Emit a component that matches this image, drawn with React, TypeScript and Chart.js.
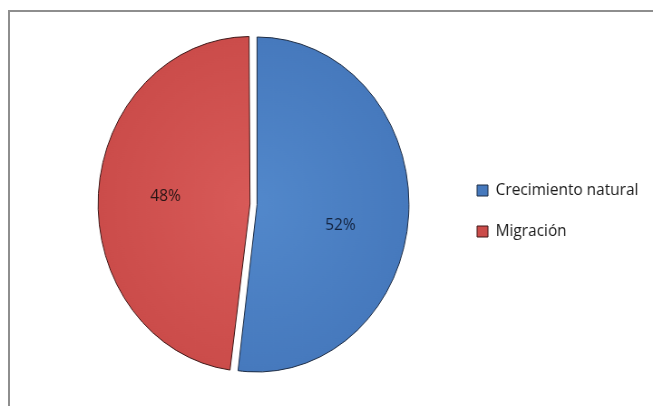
import { useEffect, useRef } from 'react';
import { Chart, registerables } from 'chart.js';

Chart.register(...registerables);

// ---- data ----
const categories = ['Crecimiento natural', 'Migración'];
const values = [52, 48];
const percentLabels = ['52%', '48%'];

// ---- styling ----
const explode = [0, 31];
const fillInner = ['#5288cb', '#d85a58'];
const fillOuter = ['#4679bd', '#cb4c4a'];
const borderColors = ['#1d2c44', '#3e1717'];
const labelColors = ['#13233f', '#2a1515'];
const labelNudge = [[0, 15], [-5, -2]];

const W_CANVAS = 720;
const W_DISPLAY = 653;
const H = 406;
const FONT_FAMILY = "'Open Sans', sans-serif";
const LEGEND_SIZE = 17;
const LEGEND_PAD = 24;
const BOX_W = 12;
const BOX_H = 11;

export default function App() {
  const ref = useRef<HTMLCanvasElement>(null);

  useEffect(() => {
    const canvas = ref.current!;
    const meas = document.createElement('canvas').getContext('2d')!;
    meas.font = `${LEGEND_SIZE}px ${FONT_FAMILY}`;
    const textW = Math.max(...categories.map((c) => meas.measureText(c).width));
    const legendWidth = LEGEND_PAD + BOX_W + LEGEND_SIZE / 2 + textW + 10;
    const legendLeft = 502;
    const padRight = Math.max(0, W_CANVAS - legendLeft - legendWidth);
    const centerX = 283.4;
    const padLeft = 2 * centerX - (W_CANVAS - padRight - legendWidth);

    const explodeFix = {
      id: 'explodeFix',
      afterUpdate(chart: any) {
        const meta = chart.getDatasetMeta(0);
        meta.data.forEach((arc: any, i: number) => {
          const off = (explode[i] || 0) / 4;
          if (!off) return;
          const fix = 1 - Math.sin(Math.min(Math.PI, arc.circumference || 0));
          arc.outerRadius -= off * fix;
        });
      },
    };

    const pctLabels = {
      id: 'pctLabels',
      afterDatasetsDraw(chart: any) {
        const ctx = chart.ctx;
        const meta = chart.getDatasetMeta(0);
        ctx.save();
        ctx.font = `17px ${FONT_FAMILY}`;
        ctx.textAlign = 'center';
        ctx.textBaseline = 'middle';
        meta.data.forEach((arc: any, i: number) => {
          const { x, y, startAngle, endAngle, outerRadius } = arc.getProps(
            ['x', 'y', 'startAngle', 'endAngle', 'outerRadius'],
            true
          );
          const mid = (startAngle + endAngle) / 2;
          const d = (explode[i] || 0) / 4 + outerRadius * 0.55;
          ctx.fillStyle = labelColors[i];
          ctx.fillText(
            percentLabels[i],
            x + Math.cos(mid) * d + labelNudge[i][0],
            y + Math.sin(mid) * d + labelNudge[i][1]
          );
        });
        ctx.restore();
      },
    };

    const bg = (c: any) => {
      const i = c.dataIndex ?? 0;
      const chart = c.chart;
      const area = chart.chartArea;
      if (!area) return fillOuter[i];
      const cx = (area.left + area.right) / 2;
      const cy = (area.top + area.bottom) / 2;
      const g = chart.ctx.createRadialGradient(cx, cy, 0, cx, cy, 170);
      g.addColorStop(0, fillInner[i]);
      g.addColorStop(1, fillOuter[i]);
      return g;
    };

    const chart = new Chart(canvas, {
      type: 'pie',
      data: {
        labels: categories,
        datasets: [
          {
            data: values,
            backgroundColor: bg as any,
            borderColor: borderColors,
            borderWidth: 1,
            offset: explode,
          } as any,
        ],
      },
      options: {
        responsive: false,
        animation: false,
        devicePixelRatio: 1,
        radius: 167.5,
        layout: { padding: { left: padLeft, right: padRight, top: 3, bottom: 0 } },
        plugins: {
          legend: {
            position: 'right',
            align: 'center',
            title: { display: true, text: '', font: { size: 10 }, padding: { top: 1, bottom: 0 } },
            labels: {
              font: { family: FONT_FAMILY, size: LEGEND_SIZE },
              color: '#1a1a1a',
              boxWidth: BOX_W,
              boxHeight: BOX_H,
              padding: LEGEND_PAD,
            },
          },
          tooltip: { enabled: false },
        },
      } as any,
      plugins: [explodeFix, pctLabels],
    });

    return () => chart.destroy();
  }, []);

  return (
    <div
      style={{
        position: 'fixed',
        left: 0,
        top: 0,
        width: W_DISPLAY,
        height: H,
        background: '#ffffff',
        overflow: 'hidden',
      }}
    >
      <div
        style={{
          position: 'absolute',
          left: 8,
          top: 10,
          right: -10,
          bottom: -10,
          borderLeft: '2px solid #8e8e8e',
          borderTop: '2px solid #8e8e8e',
        }}
      />
      <canvas
        ref={ref}
        width={W_CANVAS}
        height={H}
        style={{ position: 'absolute', left: 0, top: 0, width: W_DISPLAY, height: H, display: 'block' }}
      />
    </div>
  );
}
